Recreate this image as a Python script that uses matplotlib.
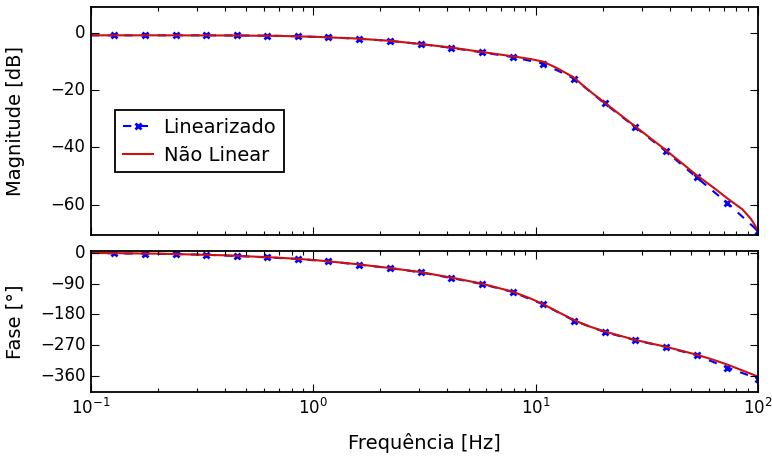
import matplotlib
matplotlib.use("Agg")
import matplotlib.pyplot as plt

plt.style.use('classic')

# Linearized model samples (frequency in Hz)
lin_freq = [0.1, 0.127, 0.175, 0.240, 0.329, 0.453, 0.622, 0.854, 1.17, 1.61, 2.21,
            3.04, 4.18, 5.74, 7.88, 10.8, 14.9, 20.4, 28.1, 38.6, 53.0, 72.8, 100.0]
lin_mag = [-0.8, -0.8, -0.8, -0.8, -0.8, -0.85, -0.9, -1.15, -1.5, -2.0, -2.75,
           -3.85, -5.2, -6.75, -8.4, -10.7, -15.9, -24.6, -32.9, -41.4, -50.5, -59.4, -69.2]
lin_phase = [-0.5, -1.8, -2.9, -3.8, -5.8, -9.6, -13.5, -18.4, -25.2, -35.0, -44.7,
             -57.5, -73.9, -91.5, -114.8, -150.9, -198.6, -231.7, -256.0, -275.6, -299.9, -336.0, -368.0]

# Non-linear model samples
nl_freq = [0.1, 0.2, 0.4, 0.7, 1.0, 1.5, 2.2, 3.0, 4.2, 5.7, 7.9, 9.5, 10.8, 12.5,
           14.9, 17.0, 20.4, 28.1, 38.6, 53.0, 63.0, 72.8, 85.0, 93.0, 100.0]
nl_mag = [-0.8, -0.8, -0.85, -1.0, -1.3, -1.85, -2.7, -3.8, -5.1, -6.6, -8.15, -9.1, -10.0, -12.3,
          -15.6, -19.5, -24.3, -32.7, -41.0, -49.7, -54.0, -57.8, -61.6, -65.0, -69.0]
nl_phase = [-0.5, -2.6, -7.5, -14.5, -21.0, -32.0, -44.5, -56.0, -73.0, -90.0, -114.0, -134.0, -150.0, -172.0,
            -197.0, -213.0, -230.0, -255.0, -275.0, -298.0, -313.0, -327.0, -344.0, -354.0, -362.0]

W, H = 772, 457
fig = plt.figure(figsize=(W / 100, H / 100), dpi=100, facecolor='white')

left = 91 / W
width = (758 - 91) / W
ax1 = fig.add_axes([left, 1 - 235 / H, width, (235 - 7) / H])
ax2 = fig.add_axes([left, 1 - 392.3 / H, width, (392.3 - 250.7) / H], sharex=ax1)

red = '#cc1111'
for ax, ylin, ynl in ((ax1, lin_mag, nl_mag), (ax2, lin_phase, nl_phase)):
    ax.plot(lin_freq, ylin, linestyle='--', color='b', marker='x', markersize=5,
            markeredgewidth=2, linewidth=1.5, markevery=list(range(1, len(lin_freq))),
            label='Linearizado')
    ax.plot(nl_freq, ynl, linestyle='-', color=red, linewidth=1.5, label='Não Linear')
    ax.set_xscale('log')
    ax.tick_params(axis='both', which='major', labelsize=12, length=6, width=0.8, direction='in')
    ax.tick_params(axis='both', which='minor', length=3, width=0.8, direction='in')
    for s in ax.spines.values():
        s.set_linewidth(1.3)

ax1.set_xlim(0.1, 100)
ax1.set_ylim(-70.6, 9.1)
ax1.set_yticks([0, -20, -40, -60])
ax2.set_ylim(-408, 6)
ax2.set_yticks([0, -90, -180, -270, -360])
plt.setp(ax1.get_xticklabels(), visible=False)

ax1.set_ylabel('Magnitude [dB]', fontsize=14)
ax2.set_ylabel('Fase [°]', fontsize=14)
ax2.set_xlabel('Frequência [Hz]', fontsize=14, labelpad=11)
ax1.yaxis.set_label_coords(-0.099, 0.5)
ax2.yaxis.set_label_coords(-0.099, 0.5)

leg = ax1.legend(loc='upper left', bbox_to_anchor=(24 / 667, (235 - 110) / 228), borderaxespad=0,
                 fontsize=14, numpoints=1, handlelength=1.55, borderpad=0.4, labelspacing=0.45,
                 handletextpad=0.55, fancybox=False)
leg.get_frame().set_edgecolor('black')
leg.get_frame().set_linewidth(1.3)

fig.savefig('out.png', dpi=100, facecolor='white')
